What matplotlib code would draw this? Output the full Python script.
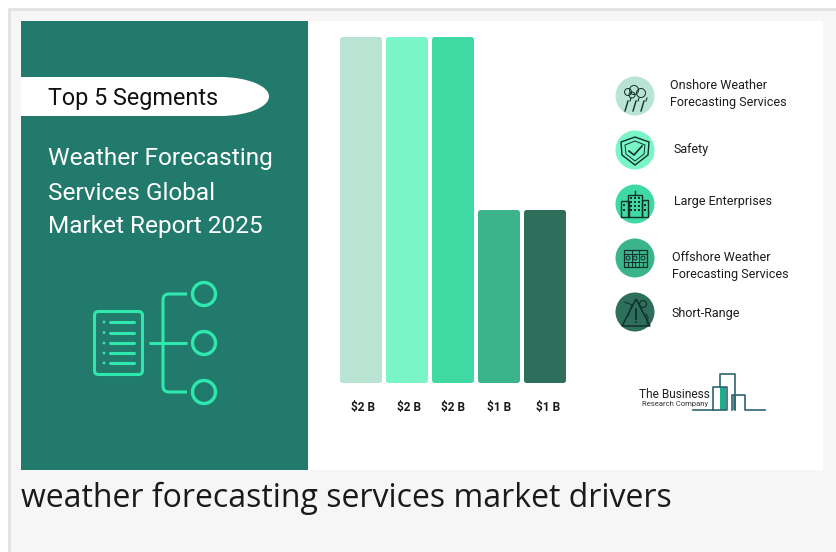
import matplotlib
matplotlib.use('Agg')
import matplotlib.pyplot as plt
from matplotlib.patches import Rectangle, Circle, Ellipse, FancyBboxPatch, Polygon
from matplotlib.transforms import ScaledTranslation

# chart values
segments = ["Onshore Weather\nForecasting Services", "Safety", "Large Enterprises",
            "Offshore Weather\nForecasting Services", "Short-Range"]
values = [2, 2, 2, 1, 1]
value_labels = ["$2 B", "$2 B", "$2 B", "$1 B", "$1 B"]
colors = ["#b9e3d3", "#7af5c8", "#3fd9a3", "#3bb48c", "#2e6f5b"]

W, H = 836, 552
TEAL = "#217a6b"
MINT = "#2ee8ae"
DARK = "#12302a"
plt.rcParams['font.family'] = ['Roboto', 'DejaVu Sans']

fig = plt.figure(figsize=(W / 100, H / 100), dpi=100, facecolor="white")

# page layer in pixel coordinates, y going down
bg = fig.add_axes([0, 0, 1, 1], zorder=0)
bg.set_xlim(0, W)
bg.set_ylim(H, 0)
bg.axis('off')
bg.add_patch(Rectangle((8.5, 8.5), 840, 560, fc="#f6f6f6", ec="#e2e2e2", lw=2))
bg.add_patch(Rectangle((21, 21), 802, 449, fc="white", ec="none"))
bg.add_patch(Rectangle((21, 21), 287, 449, fc=TEAL, ec="none"))

# white pill
bg.add_patch(Ellipse((220, 96.5), 98, 39, fc="white", ec="none"))
bg.add_patch(Rectangle((21, 77), 199, 39, fc="white", ec="none"))
bg.text(48, 98.5, "Top 5 Segments", fontsize=16.8, color="#111111", va='center', ha='left')

for y, line in zip([159, 193, 227], ["Weather Forecasting", "Services Global", "Market Report 2025"]):
    bg.text(48, y, line, fontsize=17.6, color="white", va='center', ha='left')

# document and tree icon
bg.add_patch(FancyBboxPatch((94.5, 311.5), 48, 63, boxstyle="round,pad=0,rounding_size=4",
                            fc="none", ec=MINT, lw=2.2))
for y in [322, 332.5, 343, 353, 363]:
    bg.add_patch(Circle((104, y), 1.4, fc=MINT, ec="none"))
    bg.plot([110, 134], [y, y], color=MINT, lw=2.2, solid_capstyle='round')
bg.plot([150, 186], [343, 343], color=MINT, lw=2.2, solid_capstyle='round')
bg.add_patch(FancyBboxPatch((163, 294), 40, 98, boxstyle="round,pad=0,rounding_size=6",
                            fc="none", ec=MINT, lw=2.2))
bg.add_patch(Rectangle((187, 290), 20, 106, fc=TEAL, ec="none"))
for y in [294, 343, 392]:
    bg.add_patch(Circle((204, y), 11.5, fc=TEAL, ec=MINT, lw=2.4))

# bars, baseline at y=383 and value 2 at y=37
ax = fig.add_axes([338 / W, 1 - 383 / H, 230 / W, 346 / H], zorder=1)
ax.patch.set_alpha(0)
bars = ax.bar(range(len(values)), values, width=0.913, color=colors, linewidth=0)
# swap the square bars for slightly rounded ones of the same size
for b in bars:
    b.set_visible(False)
    ax.add_patch(FancyBboxPatch((b.get_x(), b.get_y()), b.get_width(), b.get_height(),
                                boxstyle="round,pad=0,rounding_size=0.06", mutation_aspect=46 / 173,
                                fc=b.get_facecolor(), ec="none", clip_on=False))
ax.set_xlim(-0.5, 4.5)
ax.set_ylim(0, 2)
ax.set_xticks(range(len(values)))
ax.set_xticklabels(value_labels, fontsize=8.6, fontweight='bold', color="#1a1a1a")
ax.tick_params(axis='x', length=0, pad=13)
ax.set_yticks([])
for lab, dx in zip(ax.get_xticklabels(), [2, 2, 0, 0, 3]):
    lab.set_transform(lab.get_transform() + ScaledTranslation(dx / 100, 0, fig.dpi_scale_trans))
for s in ax.spines.values():
    s.set_visible(False)

# legend on the right
circle_y = [96, 150, 204, 258, 312]
text_pos = [(670, 94), (674, 149), (674, 202), (672, 266), (671, 313)]
top = fig.add_axes([0, 0, 1, 1], zorder=2)
top.set_xlim(0, W)
top.set_ylim(H, 0)
top.axis('off')
for c, cy, seg, (tx, ty) in zip(colors, circle_y, segments, text_pos):
    top.add_patch(Circle((635, cy), 19.5, fc=c, ec="none"))
    top.text(tx, ty, seg, fontsize=9.0, color="#1c1c1c", va='center', ha='left', linespacing=1.35)

# small icons inside the circles
# cloud with rain
for dx, dy, r in [(-7, -4, 3.5), (-1, -6, 4.5), (6, -3, 4.5), (-3, -1, 3)]:
    top.add_patch(Circle((635 + dx, 96 + dy), r, fc="none", ec=DARK, lw=0.7))
for dx in [-8, 0, 8]:
    top.plot([635 + dx - 2, 635 + dx + 1], [111, 101], color=DARK, lw=1.0)
    top.plot([635 + dx + 3, 635 + dx + 4], [101, 98], color=DARK, lw=0.8)
# shield
top.add_patch(Polygon([(635, 137), (649, 142), (648, 155), (635, 165), (622, 155), (621, 142)],
                      closed=True, fc="none", ec=DARK, lw=1))
top.add_patch(Polygon([(635, 141), (645, 145), (644, 154), (635, 161), (626, 154), (625, 145)],
                      closed=True, fc="none", ec=DARK, lw=0.7))
top.plot([629, 634, 642], [151, 155, 146], color=DARK, lw=1.2)
# buildings
top.add_patch(Rectangle((621, 201), 8, 15.5, fc="none", ec=DARK, lw=1))
top.add_patch(Rectangle((628, 195), 14, 21.5, fc="none", ec=DARK, lw=1))
top.add_patch(Rectangle((642, 200), 6, 16.5, fc="none", ec=DARK, lw=1))
top.plot([635, 635], [191, 195], color=DARK, lw=1)
for x in [631, 635, 639]:
    for y in [198, 202, 206, 210]:
        top.add_patch(Rectangle((x - 1, y - 1), 2, 2, fc=DARK, ec="none"))
for x in [624, 645]:
    for y in [205, 210]:
        top.add_patch(Rectangle((x - 1, y - 1), 2, 2, fc=DARK, ec="none"))
# grid panel
top.add_patch(Rectangle((624, 250), 23, 17, fc="none", ec=DARK, lw=0.9))
for x in [631.5, 639]:
    top.plot([x, x], [250, 267], color=DARK, lw=0.7)
for y in [254, 262]:
    top.plot([624, 647], [y, y], color=DARK, lw=0.7)
for x in [628, 635, 643]:
    top.add_patch(Circle((x, 258), 2, fc="none", ec=DARK, lw=0.7))
    top.plot([x, x], [263, 266], color=DARK, lw=0.8)
# warning triangle
top.add_patch(Polygon([(636, 299), (650, 326), (622, 326)], closed=True, fc="none", ec=DARK, lw=1.1))
top.plot([636, 636], [309, 319], color=DARK, lw=1.3)
top.add_patch(Circle((636, 322), 1, fc=DARK, ec="none"))
top.plot([625, 632, 628], [302, 305, 316], color=DARK, lw=0.8)
top.add_patch(Circle((643, 304), 3.5, fc="none", ec=DARK, lw=0.8))
top.plot([646, 648, 647], [314, 318, 324], color=DARK, lw=0.8)

# company logo
LOGO = "#2f6472"
top.text(639, 395, "The Business", fontsize=8.6, color="#222222", va='center', ha='left')
top.text(642, 404, "Research Company", fontsize=5.5, color="#333333", va='center', ha='left')
top.add_patch(Rectangle((720, 387), 6, 23, fc="#1fae8b", ec="none"))
top.add_patch(Rectangle((733, 395), 2.5, 15, fc="#1fae8b", ec="none"))
top.plot([693, 713, 713, 727, 727, 713], [409.5, 409.5, 386.5, 386.5, 409.5, 409.5], color=LOGO, lw=1.2)
top.plot([720, 720, 735, 735], [386.5, 373.5, 373.5, 409.5], color=LOGO, lw=1.2)
top.plot([732, 732, 745, 745, 765], [409.5, 394.5, 394.5, 409.5, 409.5], color=LOGO, lw=1.2)

# caption below the image
top.text(21, 498, "weather forecasting services market drivers", fontsize=23.0, color="#1a1a1a",
         va='center', ha='left', family=['Open Sans', 'DejaVu Sans'])

fig.savefig("out.png", dpi=100)
